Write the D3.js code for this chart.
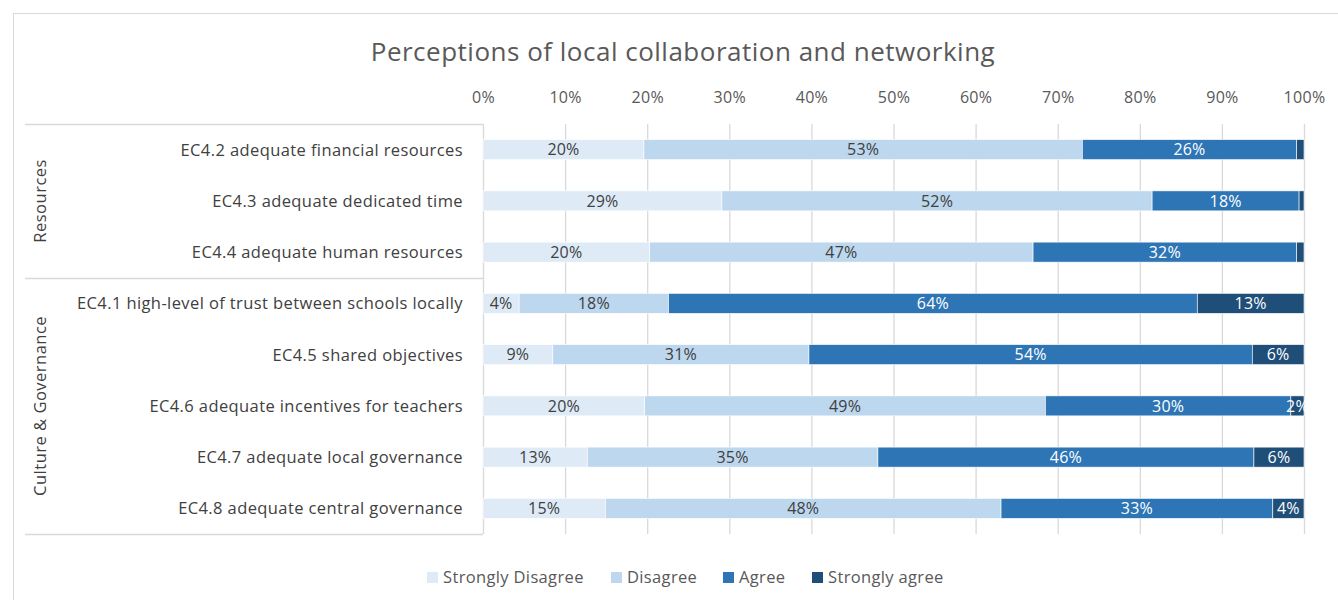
<!DOCTYPE html>
<html><head><meta charset="utf-8">
<script src="https://cdn.jsdelivr.net/npm/d3@7"></script>
<style>body{margin:0;background:#fff}svg{display:block;font-family:"Open Sans",sans-serif}</style>
</head><body><svg id="c" width="1338" height="600"></svg>
<script>
const categories = [
  "EC4.2 adequate financial resources",
  "EC4.3 adequate dedicated time",
  "EC4.4 adequate human resources",
  "EC4.1 high-level of trust between schools locally",
  "EC4.5 shared objectives",
  "EC4.6 adequate incentives for teachers",
  "EC4.7 adequate local governance",
  "EC4.8 adequate central governance"
];
const groups = [
  {name: "Resources", count: 3},
  {name: "Culture & Governance", count: 5}
];
const seriesNames = ["Strongly Disagree", "Disagree", "Agree", "Strongly agree"];
const stronglyDisagree = [19.6, 29.1, 20.3, 4.4, 8.5, 19.7, 12.7, 14.9];
const disagree         = [53.4, 52.4, 46.7, 18.2, 31.2, 48.8, 35.4, 48.2];
const agree            = [26.1, 17.9, 32.1, 64.4, 54.0, 29.9, 45.8, 33.1];
const stronglyAgree    = [0.9, 0.6, 0.9, 13.0, 6.3, 1.6, 6.1, 3.8];
const tickValues = [0,10,20,30,40,50,60,70,80,90,100];
const colors = ["#deebf7", "#bdd7ee", "#2e75b6", "#1f4e79"];
const labelColors = ["#404040", "#404040", "#ffffff", "#ffffff"];

const svg = d3.select("#c");
const x0 = 483, x1 = 1304, yTop = 124, yBot = 534;

svg.append("rect").attr("x",13.5).attr("y",13.5).attr("width",1400).attr("height",700)
  .attr("fill","#fff").attr("stroke","#d9d9d9");

const x = d3.scaleLinear().domain([0,100]).range([x0,x1]);
const y = d3.scaleBand().domain(categories).range([yTop,yBot]).paddingInner(0.6).paddingOuter(0.3);

svg.append("text").attr("x",683).attr("y",61).attr("text-anchor","middle")
  .attr("font-size",26).attr("letter-spacing",0.5).attr("fill","#595959")
  .text("Perceptions of local collaboration and networking");

// gridlines
svg.append("g").selectAll("line").data(tickValues).join("line")
  .attr("x1",d=>x(d)+0.5).attr("x2",d=>x(d)+0.5).attr("y1",yTop).attr("y2",yBot)
  .attr("stroke","#d9d9d9").attr("stroke-width",1.3);

// top axis
const ax = svg.append("g").attr("transform",`translate(0,${yTop})`)
  .call(d3.axisTop(x).tickValues(tickValues).tickFormat(d=>d+"%").tickSize(0).tickPadding(21));
ax.select(".domain").remove();
ax.selectAll("text").attr("font-size",16).attr("letter-spacing",0.3).attr("fill","#595959").attr("font-family","Open Sans");

// stacked data
const table = categories.map((c,i)=>({cat:c, s0:stronglyDisagree[i], s1:disagree[i], s2:agree[i], s3:stronglyAgree[i]}));
const stack = d3.stack().keys(["s0","s1","s2","s3"])(table);

const bh = 20;
stack.forEach((layer,li)=>{
  const g = svg.append("g");
  g.selectAll("rect").data(layer).join("rect")
    .attr("x",d=>x(d[0])).attr("width",d=>x(d[1])-x(d[0]))
    .attr("y",d=>y(d.data.cat)+y.bandwidth()/2-bh/2).attr("height",bh)
    .attr("fill",colors[li]).attr("stroke","#fff").attr("stroke-width",0.6);
  g.selectAll("text").data(layer.filter(d=>d[1]-d[0]>=1.5)).join("text")
    .attr("x",d=>(x(d[0])+x(d[1]))/2).attr("y",d=>y(d.data.cat)+y.bandwidth()/2)
    .attr("dy","0.36em").attr("text-anchor","middle").attr("font-size",16).attr("letter-spacing",0.2)
    .attr("fill",labelColors[li]).text(d=>Math.round(d[1]-d[0])+"%");
});

// category labels
svg.append("g").selectAll("text").data(categories).join("text")
  .attr("x",463).attr("y",d=>y(d)+y.bandwidth()/2).attr("dy","0.36em")
  .attr("text-anchor","end").attr("font-size",16.5).attr("letter-spacing",0.4)
  .attr("fill","#404040").text(d=>d);

// group separators and labels
const step = (yBot-yTop)/categories.length;
let start = 0;
const seps = [yTop];
groups.forEach(g=>{
  const ya = yTop+start*step, yb = yTop+(start+g.count)*step;
  seps.push(yb);
  svg.append("text").attr("transform",`translate(46,${(ya+yb)/2}) rotate(-90)`)
    .attr("text-anchor","middle").attr("font-size",16.5).attr("letter-spacing",0.5)
    .attr("fill","#404040").text(g.name);
  start += g.count;
});
svg.append("g").selectAll("line").data(seps).join("line")
  .attr("x1",25).attr("x2",x0).attr("y1",d=>Math.round(d)+0.5).attr("y2",d=>Math.round(d)+0.5)
  .attr("stroke","#d9d9d9").attr("stroke-width",1.3);

// legend
const legX = [427, 611, 723, 812];
const lg = svg.append("g").selectAll("g").data(seriesNames).join("g")
  .attr("transform",(d,i)=>`translate(${legX[i]},577.5)`);
lg.append("rect").attr("x",0).attr("y",-5.5).attr("width",11).attr("height",11).attr("fill",(d,i)=>colors[i]);
lg.append("text").attr("x",16).attr("dy","0.36em").attr("font-size",16.5).attr("letter-spacing",0.35)
  .attr("fill","#595959").text(d=>d);
</script></body></html>
